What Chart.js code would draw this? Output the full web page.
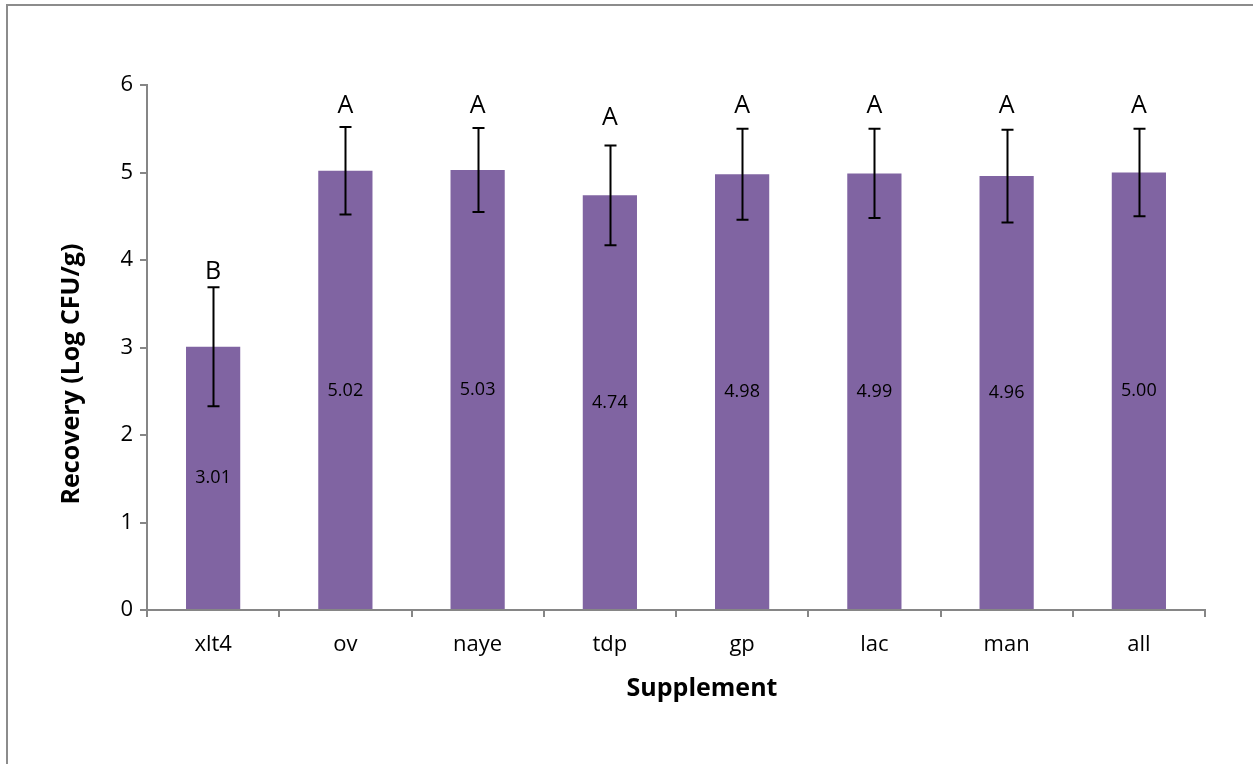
<!DOCTYPE html>
<html>
<head>
<meta charset="utf-8">
<script src="https://cdn.jsdelivr.net/npm/chart.js@4/dist/chart.umd.min.js"></script>
<style>
  html, body { margin: 0; padding: 0; background: #fff; }
  #wrap { position: absolute; left: 0; top: 0; width: 1253px; height: 764px; }
  #frame { position: absolute; left: 6px; top: 4px; width: 1260px; height: 800px;
           border-left: 2px solid #8c8c8c; border-top: 2px solid #8c8c8c; }
  canvas { position: absolute; left: 0; top: 0; }
</style>
</head>
<body>
<div id="wrap">
  <div id="frame"></div>
  <canvas id="c" width="1253" height="764"></canvas>
</div>
<script>
// data
const supplements = ["xlt4", "ov", "naye", "tdp", "gp", "lac", "man", "all"];
const recovery = [3.01, 5.02, 5.03, 4.74, 4.98, 4.99, 4.96, 5.00];
const errors = [0.68, 0.50, 0.48, 0.57, 0.52, 0.51, 0.53, 0.50];
const letters = ["B", "A", "A", "A", "A", "A", "A", "A"];
const letterY = [3.87, 5.76, 5.76, 5.63, 5.76, 5.76, 5.76, 5.76];
const yTicks = [0, 1, 2, 3, 4, 5, 6];

const FONT = "'Open Sans', 'Noto Sans', sans-serif";
const AXIS = "#868686";

const extras = {
  id: "extras",
  afterDatasetsDraw(chart) {
    const ctx = chart.ctx;
    const x = chart.scales.x, y = chart.scales.y;
    ctx.save();
    // error bars
    ctx.strokeStyle = "#000";
    ctx.lineWidth = 2;
    recovery.forEach((v, i) => {
      const cx = Math.round(x.getPixelForValue(i)) + 0.5;
      const top = y.getPixelForValue(v + errors[i]);
      const bot = y.getPixelForValue(v - errors[i]);
      ctx.beginPath();
      ctx.moveTo(cx, top); ctx.lineTo(cx, bot);
      ctx.moveTo(cx - 6, top); ctx.lineTo(cx + 6, top);
      ctx.moveTo(cx - 6, bot); ctx.lineTo(cx + 6, bot);
      ctx.stroke();
    });
    // value labels in the middle of each bar
    ctx.fillStyle = "#000";
    ctx.textAlign = "center";
    ctx.textBaseline = "middle";
    ctx.font = "18px " + FONT;
    recovery.forEach((v, i) => {
      ctx.fillText(v.toFixed(2), x.getPixelForValue(i), y.getPixelForValue(v / 2));
    });
    // significance letters
    ctx.font = "25px " + FONT;
    letters.forEach((l, i) => {
      ctx.fillText(l, x.getPixelForValue(i), y.getPixelForValue(letterY[i]));
    });
    // axis titles
    ctx.font = "bold 25px " + FONT;
    ctx.fillText("Supplement", 702, 689);
    ctx.translate(72, 374);
    ctx.rotate(-Math.PI / 2);
    ctx.fillText("Recovery (Log CFU/g)", 0, 0);
    ctx.restore();
  }
};

new Chart(document.getElementById("c"), {
  type: "bar",
  data: {
    labels: supplements,
    datasets: [{
      data: recovery,
      backgroundColor: "#8064A2",
      categoryPercentage: 1,
      barPercentage: 0.41
    }]
  },
  options: {
    responsive: false,
    animation: false,
    layout: { padding: { left: 0, top: 85, right: 48, bottom: 0 } },
    plugins: { legend: { display: false }, tooltip: { enabled: false } },
    scales: {
      x: {
        afterFit: s => { s.height = 154; },
        grid: { display: true, drawOnChartArea: false, color: AXIS, lineWidth: 2, tickLength: 7, offset: true },
        border: { color: AXIS, width: 2 },
        ticks: { color: "#000", font: { family: FONT, size: 22 }, padding: 15 }
      },
      y: {
        min: 0, max: 6,
        afterFit: s => { s.width = 147; },
        afterBuildTicks: s => { s.ticks = yTicks.map(v => ({ value: v })); },
        grid: { display: true, drawOnChartArea: false, color: AXIS, lineWidth: 2, tickLength: 7 },
        border: { color: AXIS, width: 2 },
        ticks: { color: "#000", font: { family: FONT, size: 22 }, padding: 7 }
      }
    }
  },
  plugins: [extras]
});
</script>
</body>
</html>
